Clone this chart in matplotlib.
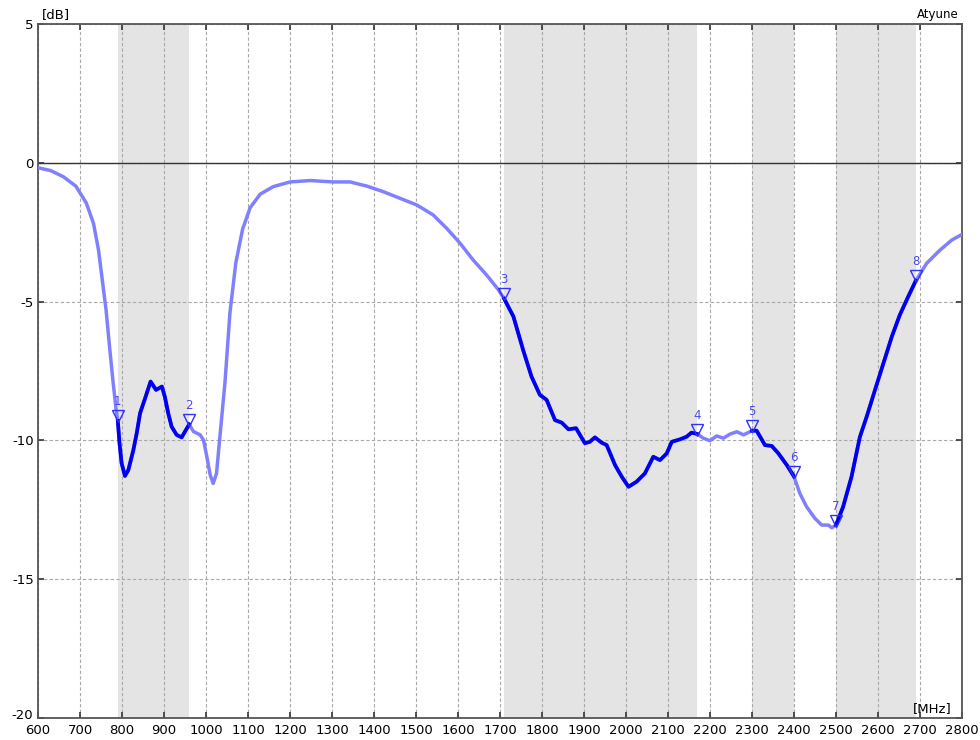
import matplotlib.pyplot as plt
import matplotlib.transforms as mtransforms
import numpy as np

plt.rcParams['axes.unicode_minus'] = False

freq = [600, 630, 660, 690, 715, 732, 744, 754, 762, 771, 779, 786, 790, 794, 799, 807, 815, 827, 835, 843,
        855, 868, 881, 895, 902, 910, 918, 930, 942, 950, 960, 970, 986, 994, 1002, 1010, 1017, 1025, 1033, 1045,
        1057, 1071, 1087, 1105, 1129, 1160, 1200, 1248, 1303, 1343, 1383, 1422, 1462, 1502, 1541, 1573, 1605, 1636, 1668, 1695,
        1710, 1732, 1755, 1775, 1795, 1811, 1831, 1847, 1863, 1881, 1902, 1914, 1926, 1942, 1954, 1974, 1990, 2006, 2025, 2045,
        2065, 2081, 2097, 2109, 2129, 2144, 2156, 2170, 2184, 2200, 2216, 2232, 2248, 2264, 2280, 2300, 2311, 2331, 2347, 2363,
        2383, 2400, 2414, 2430, 2450, 2466, 2482, 2490, 2500, 2517, 2537, 2557, 2573, 2593, 2613, 2633, 2652, 2672, 2690, 2716,
        2748, 2776, 2800]
db = [-0.18, -0.28, -0.5, -0.84, -1.45, -2.18, -3.14, -4.34, -5.3, -6.74, -7.94, -8.9, -9.3, -10.1, -10.82, -11.28, -11.07, -10.35, -9.74, -9.02,
      -8.48, -7.88, -8.18, -8.06, -8.43, -9.02, -9.5, -9.8, -9.89, -9.68, -9.42, -9.68, -9.8, -9.99, -10.59, -11.25, -11.55, -11.19, -9.87, -7.94,
      -5.4, -3.6, -2.4, -1.62, -1.13, -0.86, -0.69, -0.64, -0.69, -0.69, -0.84, -1.04, -1.28, -1.52, -1.88, -2.36, -2.9, -3.5, -4.04, -4.55,
      -4.9, -5.54, -6.74, -7.7, -8.36, -8.54, -9.27, -9.36, -9.6, -9.56, -10.1, -10.05, -9.89, -10.08, -10.17, -10.89, -11.31, -11.67, -11.49, -11.19,
      -10.59, -10.71, -10.47, -10.05, -9.96, -9.87, -9.72, -9.77, -9.92, -10.01, -9.84, -9.92, -9.77, -9.69, -9.8, -9.65, -9.65, -10.17, -10.2, -10.47,
      -10.89, -11.3, -11.91, -12.39, -12.81, -13.05, -13.05, -13.15, -13.05, -12.39, -11.31, -9.87, -9.15, -8.18, -7.22, -6.26, -5.48, -4.82, -4.25, -3.62,
      -3.14, -2.78, -2.58]

# marker frequencies, pairs define the bands
markers = [790, 960, 1710, 2170, 2300, 2400, 2500, 2690]
bands = [(790, 960), (1710, 2170), (2300, 2400), (2500, 2690)]

f = np.array(freq)
d = np.array(db)

fig = plt.figure(figsize=(9.8, 7.4), dpi=100)
ax = fig.add_axes([0.0388, 0.0297, 0.9428, 0.9379])

for b in bands:
    ax.axvspan(b[0], b[1], color='#e4e4e4', lw=0, zorder=0)

ax.plot(f, d, color='#8080ff', lw=2.5, zorder=3, solid_capstyle='round', solid_joinstyle='round')
for b in bands:
    m = (f >= b[0]) & (f <= b[1])
    ax.plot(f[m], d[m], color='#0000ee', lw=2.7, zorder=4, solid_joinstyle='round')

ax.axhline(0, color='#333333', lw=1.0, zorder=2)

tri = mtransforms.offset_copy(ax.transData, fig=fig, y=4.5, units='dots')
for i, mf in enumerate(markers):
    mv = np.interp(mf, f, d)
    ax.plot(mf, mv, marker='v', ms=8, mfc='none', mec='#3030ff', mew=1.0, transform=tri, zorder=5)
    ax.annotate(str(i + 1), (mf, mv), xytext=(0, 9), textcoords='offset points',
                ha='center', va='bottom', fontsize=8.5, color='#4848f0', zorder=5)

ax.set_xlim(600, 2800)
ax.set_ylim(-20, 5)
ax.set_xticks(range(600, 2801, 100))
ax.set_yticks([-20, -15, -10, -5, 0, 5])
ax.grid(True, color='#a8a8a8', linestyle=(0, (3, 2)), lw=0.8, zorder=1)
ax.set_axisbelow(True)
ax.tick_params(direction='in', length=4, width=1.2, color='#333333', top=True, right=True,
               labelsize=9.5, pad=3)
ax.tick_params(axis='x', pad=4)
for s in ax.spines.values():
    s.set_color('#555555')
    s.set_linewidth(1.3)

# lift the -20 label a little so it clears the 600 label
lab = ax.get_yticklabels()[0]
lab.set_transform(lab.get_transform() + mtransforms.Affine2D().translate(-1, 4))

fig.text(0.043, 0.972, '[dB]', fontsize=9.5, ha='left', va='bottom')
fig.text(0.978, 0.972, 'Atyune', fontsize=8.5, ha='right', va='bottom')
ax.text(2775, -19.9, '[MHz]', fontsize=9.5, ha='right', va='bottom')

plt.savefig('out.png')
